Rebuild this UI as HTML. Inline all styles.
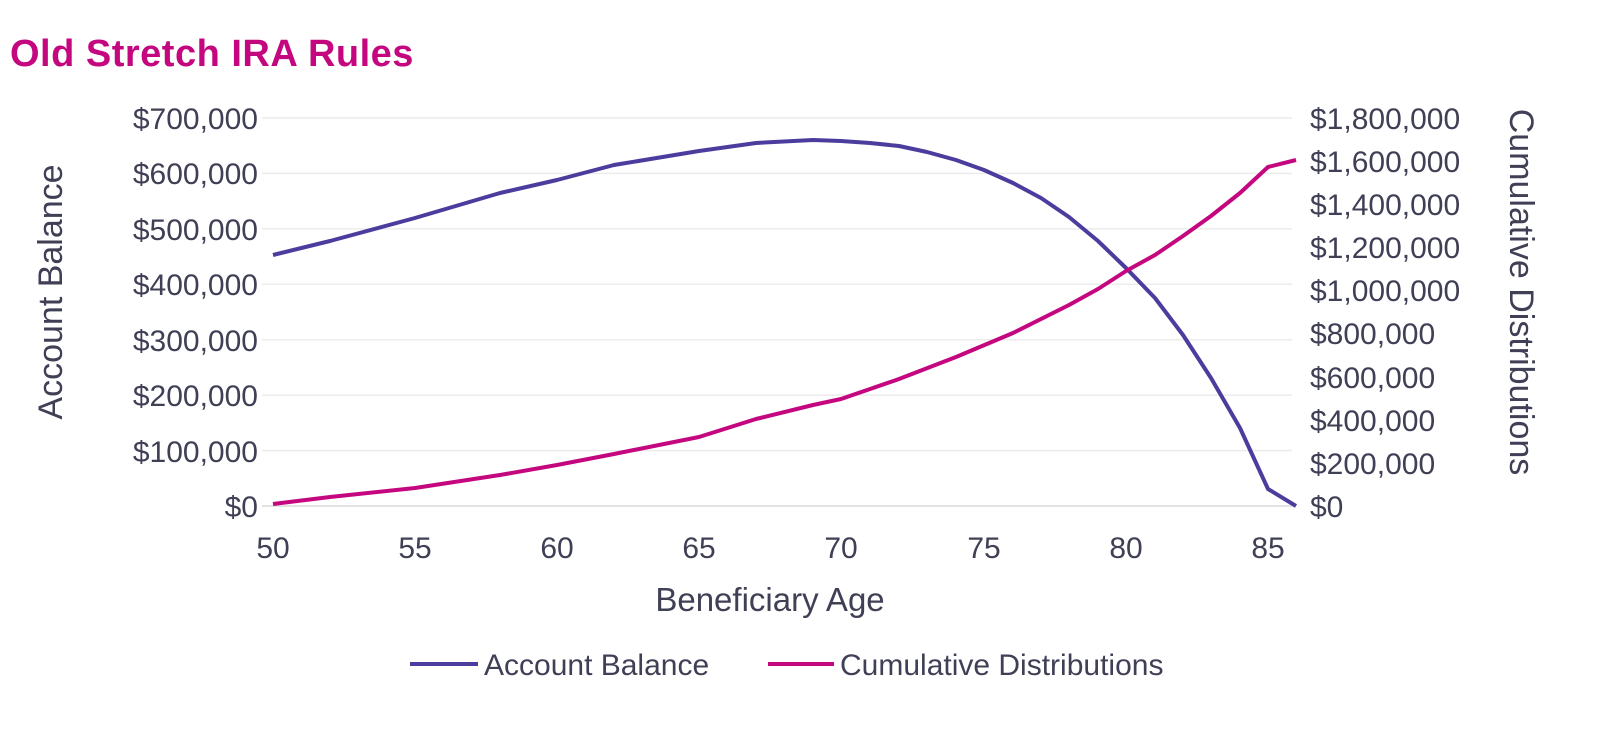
<!DOCTYPE html>
<html><head><meta charset="utf-8"><style>
html,body{margin:0;padding:0;background:#fff;}
body{width:1600px;height:724px;overflow:hidden;font-family:"Liberation Sans",sans-serif;}
</style></head><body>
<svg width="1600" height="724" xmlns="http://www.w3.org/2000/svg" font-family="Liberation Sans, sans-serif">
<text x="10" y="66" font-size="38" font-weight="bold" fill="#c4077f" letter-spacing="0.5">Old Stretch IRA Rules</text>
<g stroke="#ececec" stroke-width="1.5">
<line x1="262" x2="1292" y1="118" y2="118"/><line x1="262" x2="1292" y1="173.4" y2="173.4"/>
<line x1="262" x2="1292" y1="228.9" y2="228.9"/><line x1="262" x2="1292" y1="284.3" y2="284.3"/>
<line x1="262" x2="1292" y1="339.7" y2="339.7"/><line x1="262" x2="1292" y1="395.1" y2="395.1"/>
<line x1="262" x2="1292" y1="450.6" y2="450.6"/></g>
<line x1="262" x2="1292" y1="506" y2="506" stroke="#d8d8d8" stroke-width="1.5"/>
<g font-size="30" fill="#3f3f55" text-anchor="end">
<text x="258" y="129">$700,000</text><text x="258" y="184">$600,000</text><text x="258" y="240">$500,000</text>
<text x="258" y="295">$400,000</text><text x="258" y="351">$300,000</text><text x="258" y="406">$200,000</text>
<text x="258" y="462">$100,000</text><text x="258" y="517">$0</text></g>
<g font-size="30" fill="#3f3f55" text-anchor="start">
<text x="1310" y="129">$1,800,000</text><text x="1310" y="172">$1,600,000</text><text x="1310" y="215">$1,400,000</text>
<text x="1310" y="258">$1,200,000</text><text x="1310" y="301">$1,000,000</text><text x="1310" y="344">$800,000</text>
<text x="1310" y="388">$600,000</text><text x="1310" y="431">$400,000</text><text x="1310" y="474">$200,000</text>
<text x="1310" y="517">$0</text></g>
<g font-size="30" fill="#3f3f55" text-anchor="middle">
<text x="273" y="558">50</text><text x="415" y="558">55</text><text x="557" y="558">60</text>
<text x="699" y="558">65</text><text x="841" y="558">70</text><text x="984" y="558">75</text>
<text x="1126" y="558">80</text><text x="1268" y="558">85</text>
<text x="770" y="611" font-size="33">Beneficiary Age</text>
<text transform="translate(62,292) rotate(-90)" font-size="34">Account Balance</text>
<text transform="translate(1510,292) rotate(90)" font-size="34">Cumulative Distributions</text></g>
<polyline fill="none" stroke="#4b3d9e" stroke-width="4" stroke-linejoin="round" points="273,255 330,241 415,218 500,193 557,180 614,165 699,151 756,143 813,140 841,141 870,143 899,146 927,152 956,160 984,170 1013,183 1041,198 1069,217 1098,241 1126,268 1155,298 1183,335 1211,378 1240,428 1268,489 1296,506"/>
<polyline fill="none" stroke="#c4077f" stroke-width="4" stroke-linejoin="round" points="273,504 330,497 415,488 500,475 557,465 614,454 699,437 756,419 813,405 841,399 899,379 956,357 1013,333 1069,305 1098,289 1126,271 1155,255 1183,236 1211,216 1240,193 1268,167 1296,160"/>
<line x1="410" x2="478" y1="664" y2="664" stroke="#4b3d9e" stroke-width="4"/>
<text x="484" y="675" font-size="30" fill="#3f3f55">Account Balance</text>
<line x1="768" x2="834" y1="664" y2="664" stroke="#c4077f" stroke-width="4"/>
<text x="840" y="675" font-size="30" fill="#3f3f55">Cumulative Distributions</text>
</svg>
</body></html>
